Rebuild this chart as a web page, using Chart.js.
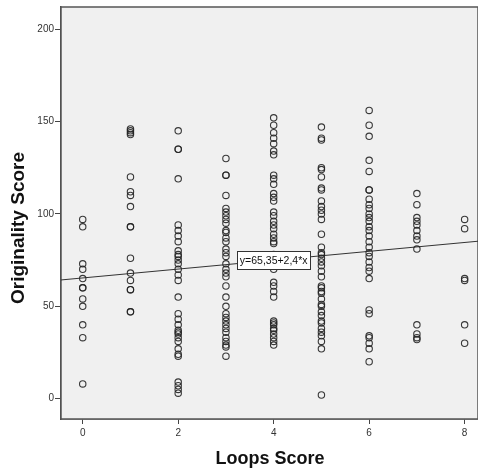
<!DOCTYPE html>
<html>
<head>
<meta charset="utf-8">
<script src="https://cdn.jsdelivr.net/npm/chart.js@4.4.1/dist/chart.umd.min.js"></script>
<style>
    html, body { margin: 0; padding: 0; background: #ffffff; overflow: hidden; }
    #scatterChart { display: block; }
</style>
</head>
<body>
<canvas id="scatterChart" width="478" height="476"></canvas>
<script>

// Loops score levels and the originality scores
const loopsLevels = [0, 1, 2, 3, 4, 5, 6, 7, 8];
const origLoops0 = [97, 93, 73, 70, 65, 60, 60, 54, 50, 40, 33, 8];
const origLoops1 = [146, 145, 144, 143, 120, 112, 110, 104, 93, 93, 76, 68, 64, 59, 59, 47, 47];
const origLoops2 = [145, 135, 135, 119, 94, 91, 88, 85, 80, 78, 77, 75, 73, 70, 67, 64, 55, 46, 43, 40, 37, 36, 35, 33, 31, 27, 24, 23, 9, 7, 5, 3];
const origLoops3 = [130, 121, 121, 110, 103, 101, 99, 97, 95, 91, 90, 87, 85, 81, 79, 77, 73, 70, 68, 66, 61, 55, 50, 46, 44, 42, 40, 38, 36, 33, 31, 29, 28, 23];
const origLoops4 = [152, 148, 144, 141, 138, 134, 132, 121, 119, 116, 111, 109, 107, 101, 99, 96, 94, 92, 89, 87, 85, 84, 78, 75, 70, 63, 61, 58, 55, 42, 41, 40, 38, 37, 35, 33, 31, 29];
const origLoops5 = [147, 141, 140, 125, 124, 120, 114, 113, 107, 104, 102, 100, 97, 89, 82, 79, 78, 76, 74, 72, 69, 66, 61, 60, 58, 57, 54, 51, 50, 47, 45, 42, 41, 38, 36, 34, 31, 27, 2];
const origLoops6 = [156, 148, 142, 129, 123, 113, 113, 108, 105, 103, 100, 98, 96, 93, 91, 88, 85, 82, 79, 77, 74, 71, 69, 65, 48, 46, 34, 33, 30, 27, 20];
const origLoops7 = [111, 105, 98, 96, 94, 91, 88, 86, 81, 40, 35, 33, 32];
const origLoops8 = [97, 92, 65, 64, 40, 30];

// Fit line shown on the chart: y = 65,35 + 2,4*x
const fitIntercept = 65.35;
const fitSlope = 2.4;
const fitLabel = "y=65,35+2,4*x";

// Axis ticks and titles
const xTicks = [0, 2, 4, 6, 8];
const yTicks = [0, 50, 100, 150, 200];
const xTitle = "Loops Score";
const yTitle = "Originality Score";

const xMin = -0.455;
const xMax = 8.28;
const yMin = -11;
const yMax = 212;

// Build scatter points
const columns = [origLoops0, origLoops1, origLoops2, origLoops3, origLoops4,
                 origLoops5, origLoops6, origLoops7, origLoops8];
const points = [];
columns.forEach((col, i) => {
    col.forEach(v => points.push({ x: loopsLevels[i], y: v }));
});

// Fit line across the whole x range
const fitPoints = [
    { x: xMin, y: fitIntercept + fitSlope * xMin },
    { x: xMax, y: fitIntercept + fitSlope * xMax }
];

// Grey plot background + frame
const plotFrame = {
    id: "plotFrame",
    beforeDatasetsDraw(chart) {
        const a = chart.chartArea;
        const ctx = chart.ctx;
        ctx.save();
        ctx.fillStyle = "#f0f0f0";
        ctx.fillRect(a.left, a.top, a.right - a.left, a.bottom - a.top);
        ctx.strokeStyle = "#555555";
        ctx.lineWidth = 1.5;
        ctx.strokeRect(a.left, a.top, a.right - a.left, a.bottom - a.top);
        ctx.restore();
    }
};

// Equation label box sitting on the fit line at x = 4
const fitBox = {
    id: "fitBox",
    afterDatasetsDraw(chart) {
        const xs = chart.scales.x;
        const ys = chart.scales.y;
        const ctx = chart.ctx;
        const cx = xs.getPixelForValue(4);
        const cy = ys.getPixelForValue(fitIntercept + fitSlope * 4);
        ctx.save();
        ctx.font = "10.5px 'Liberation Sans', Arial, sans-serif";
        const w = ctx.measureText(fitLabel).width + 5;
        const h = 18;
        ctx.fillStyle = "#ffffff";
        ctx.fillRect(cx - w / 2, cy - h / 2, w, h);
        ctx.strokeStyle = "#333333";
        ctx.lineWidth = 1;
        ctx.strokeRect(Math.round(cx - w / 2) + 0.5, Math.round(cy - h / 2) + 0.5, Math.round(w), h);
        ctx.fillStyle = "#111111";
        ctx.textAlign = "center";
        ctx.textBaseline = "middle";
        ctx.fillText(fitLabel, cx, cy + 1);
        ctx.restore();
    }
};

// Axis titles
const axisTitles = {
    id: "axisTitles",
    afterDraw(chart) {
        const ctx = chart.ctx;
        ctx.save();
        ctx.fillStyle = "#111111";
        ctx.textAlign = "center";
        ctx.textBaseline = "middle";
        ctx.font = "bold 18px 'Liberation Sans', Arial, sans-serif";
        ctx.fillText(xTitle, 270, 459);
        ctx.translate(19, 228);
        ctx.rotate(-Math.PI / 2);
        ctx.font = "bold 19px 'Liberation Sans', Arial, sans-serif";
        ctx.fillText(yTitle, 0, 0);
        ctx.restore();
    }
};

const ctx = document.getElementById("scatterChart").getContext("2d");

new Chart(ctx, {
    type: "scatter",
    data: {
        datasets: [
            {
                label: "Originality",
                data: points,
                pointRadius: 3.2,
                pointBorderWidth: 1.1,
                pointBorderColor: "rgba(35,35,35,0.9)",
                pointBackgroundColor: "rgba(0,0,0,0)",
                pointHoverRadius: 3.2
            },
            {
                type: "line",
                label: "Fit",
                data: fitPoints,
                borderColor: "#333333",
                borderWidth: 1,
                pointRadius: 0,
                fill: false
            }
        ]
    },
    options: {
        responsive: false,
        animation: false,
        events: [],
        layout: {
            autoPadding: false,
            padding: { top: 6, right: 0, bottom: 0, left: 0 }
        },
        plugins: {
            legend: { display: false },
            tooltip: { enabled: false }
        },
        scales: {
            x: {
                type: "linear",
                min: xMin,
                max: xMax,
                afterBuildTicks: scale => {
                    scale.ticks = xTicks.map(v => ({ value: v }));
                },
                afterFit: scale => { scale.height = 57; },
                grid: {
                    drawOnChartArea: false,
                    drawTicks: true,
                    tickLength: 5,
                    tickColor: "#444444"
                },
                border: { display: true, color: "#444444", width: 1.5 },
                ticks: {
                    padding: 3,
                    color: "#333333",
                    font: { size: 10, family: "'Liberation Sans', Arial, sans-serif" }
                }
            },
            y: {
                type: "linear",
                min: yMin,
                max: yMax,
                afterBuildTicks: scale => {
                    scale.ticks = yTicks.map(v => ({ value: v }));
                },
                afterFit: scale => { scale.width = 61; },
                grid: {
                    drawOnChartArea: false,
                    drawTicks: true,
                    tickLength: 6,
                    tickColor: "#444444"
                },
                border: { display: true, color: "#444444", width: 1.5 },
                ticks: {
                    padding: 1,
                    color: "#333333",
                    font: { size: 10, family: "'Liberation Sans', Arial, sans-serif" }
                }
            }
        }
    },
    plugins: [plotFrame, fitBox, axisTitles]
});
</script>
</body>
</html>
